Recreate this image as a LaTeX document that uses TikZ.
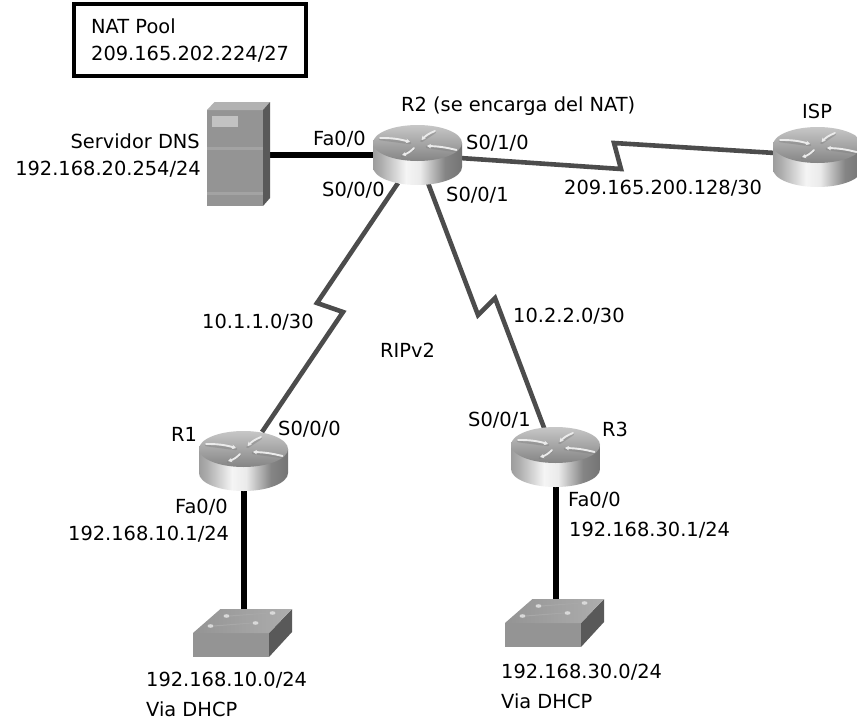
\documentclass[tikz,border=0pt]{standalone}
\usepackage{fontspec}
\setmainfont{DejaVu Sans}
\usetikzlibrary{calc,arrows.meta}
\pgfdeclarehorizontalshading{routerbody}{89bp}{
  color(0bp)=(black!58); color(8bp)=(black!55); color(24bp)=(black!32); color(38bp)=(black!4);
  color(46bp)=(black!8); color(60bp)=(black!48); color(80bp)=(black!62); color(89bp)=(black!50)}
\tikzset{
  x=1pt,y=-1pt,
  lbl/.style={inner sep=0pt,font=\fontsize{19.4}{22}\selectfont,text=black,anchor=west},
  lblr/.style={lbl,anchor=east},
  holder/.style={inner sep=0pt,outer sep=0pt,draw=none},
  routerbox/.style={holder,minimum width=89pt,minimum height=60pt},
  switchbox/.style={holder,minimum width=99pt,minimum height=48pt},
  serverbox/.style={holder,minimum width=63pt,minimum height=104pt},
  eth/.style={line width=6pt,black},
  serial/.style={line width=4.6pt,black!70,line join=miter},
  glyph/.style={line width=1.9pt,white!92!black,line cap=round,-{Stealth[length=4pt,width=4.5pt]}},
  glyphb/.style={line width=2.6pt,black!50,line cap=round,opacity=.45},
  poolbox/.style={draw=black,line width=3.5pt,fill=white,inner sep=0pt,minimum width=232pt,minimum height=72pt}
}
\newcommand{\routericon}[1]{%
  \begin{scope}[shift={(#1)}]
    \shade[shading=routerbody] (-44.5,-12) -- (-44.5,12) .. controls (-44.5,22) and (-24.5,30) .. (0,30) .. controls (24.5,30) and (44.5,22) .. (44.5,12) -- (44.5,-12) -- cycle;
    \shade[top color=black!22,bottom color=black!48] (0,-12) ellipse[x radius=44.5,y radius=18];
    \draw[glyphb] (-37.5,-16) -- (-7.5,-12);
    \draw[glyphb] (17.5,-23) -- (4,-14);
    \draw[glyphb] (-3.5,-6) -- (-15.5,1);
    \draw[glyphb] (9.5,-8) -- (39,-4);
    \draw[glyph] (-37.5,-17) to[bend left=8] (-7.5,-13);
    \draw[glyph] (17.5,-24) to[bend right=12] (4,-15);
    \draw[glyph] (-3.5,-7) to[bend left=15] (-15.5,0);
    \draw[glyph] (39,-5) to[bend right=6] (9.5,-9);
  \end{scope}}
\newcommand{\switchicon}[1]{%
  \begin{scope}[shift={(#1)}]
    \fill[black!42] (-49.5,0) -- (26.5,0) -- (26.5,24) -- (-49.5,24) -- cycle;
    \fill[black!65] (26.5,0) -- (49.5,-24) -- (49.5,-1) -- (26.5,24) -- cycle;
    \shade[left color=black!42,right color=black!32] (-49.5,0) -- (-22,-24) -- (49.5,-24) -- (26.5,0) -- cycle;
    \fill[white!85!black] (-16,-17) circle[x radius=3,y radius=1.8] (30,-20) circle[x radius=3,y radius=1.8]
      (-32,-7) circle[x radius=3,y radius=1.8] (13,-10) circle[x radius=3,y radius=1.8];
    \draw[black!34,line width=1pt] (-13,-17) -- (27,-20) (-29,-7) -- (10,-10);
  \end{scope}}
\newcommand{\servericon}[1]{%
  \begin{scope}[shift={(#1)}]
    \fill[black!42] (-31.5,-44) -- (24.5,-44) -- (24.5,52) -- (-31.5,52) -- cycle;
    \fill[black!30] (-31.5,-44) -- (-24,-52) -- (31.5,-52) -- (24.5,-44) -- cycle;
    \fill[black!65] (24.5,-44) -- (31.5,-52) -- (31.5,44) -- (24.5,52) -- cycle;
    \fill[black!24] (-27,-38) rectangle (-1,-27);
    \fill[black!36] (-31.5,-7) rectangle (24.5,-4);
    \fill[black!36] (-31.5,38) rectangle (24.5,41);
  \end{scope}}
\begin{document}
\begin{tikzpicture}
\useasboundingbox (0,0) rectangle (857,720);
\fill[white] (0,0) rectangle (857,720);

% holders
\node[routerbox] (R2) at (417.5,155) {};
\node[routerbox] (R1) at (243.5,461) {};
\node[routerbox] (R3) at (555.5,457) {};
\node[routerbox] (ISP) at (817.5,157) {};
\node[switchbox] (sw1) at (242.5,633) {};
\node[switchbox] (sw2) at (554.5,623) {};
\node[serverbox] (srv) at (238.5,154) {};

% bends
\coordinate (a1) at (317,303);
\coordinate (a2) at (343,312);
\coordinate (b1) at (478,315);
\coordinate (b2) at (495,298);
\coordinate (c1) at (621,169);
\coordinate (c2) at (614,143);

% connectors
\draw[eth] (R2.west -| srv.east) -- ($(R2.west)+(4,0)$);
\draw[eth] (R1.south) -- (R1.south |- sw1.north);
\draw[eth] (R3.south) -- (R3.south |- sw2.north);
\draw[serial] ($(R2.south)+(-19.5,-2)$) -- (a1) -- (a2) -- ($(R1.north)+(18.5,1)$);
\draw[serial] ($(R2.south)+(10.5,-2)$) -- (b1) -- (b2) -- ($(R3.north)+(-11,2)$);
\draw[serial] ($(R2.east)+(-2,3)$) -- (c1) -- (c2) -- ($(ISP.west)+(2,-4)$);

% icons
\servericon{srv.center}
\switchicon{sw1.center}
\switchicon{sw2.center}
\routericon{R2.center}
\routericon{R1.center}
\routericon{R3.center}
\routericon{ISP.center}

% pool
\node[poolbox,anchor=north west] (pool) at (72,2) {};
\node[lbl] (t1) at (91,26) {NAT Pool};
\node[lbl] (t2) at (91,54) {209.165.202.224/27};

% labels
\node[lblr] (t3) at (200,141) {Servidor DNS};
\node[lblr] (t4) at (201,169) {192.168.20.254/24};
\node[lbl] (t5) at (401,106) {R2 (se encarga del NAT)};
\node[lbl] (t6) at (802,111) {ISP};
\node[lbl] (t7) at (313,139) {Fa0/0};
\node[lbl] (t8) at (466,143) {S0/1/0};
\node[lbl] (t9) at (322,190) {S0/0/0};
\node[lbl] (t10) at (446,195) {S0/0/1};
\node[lbl] (t11) at (564,188) {209.165.200.128/30};
\node[lbl] (t12) at (202,322) {10.1.1.0/30};
\node[lbl] (t13) at (380,350) {RIPv2};
\node[lbl] (t14) at (513,316) {10.2.2.0/30};
\node[lbl] (t15) at (171,434) {R1};
\node[lbl] (t16) at (278,429) {S0/0/0};
\node[lbl] (t17) at (175,507) {Fa0/0};
\node[lbl] (t18) at (68,534) {192.168.10.1/24};
\node[lbl] (t19) at (146,680) {192.168.10.0/24};
\node[lbl] (t20) at (146,709) {Via DHCP};
\node[lbl] (t21) at (468,420) {S0/0/1};
\node[lbl] (t22) at (602,429) {R3};
\node[lbl] (t23) at (568,500) {Fa0/0};
\node[lbl] (t24) at (569,530) {192.168.30.1/24};
\node[lbl] (t25) at (501,672) {192.168.30.0/24};
\node[lbl] (t26) at (501,701) {Via DHCP};
\end{tikzpicture}
\end{document}
